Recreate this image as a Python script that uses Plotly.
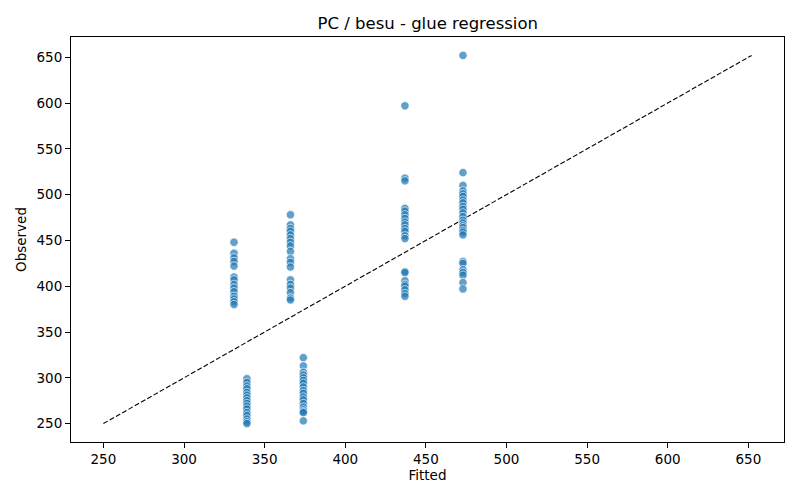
import plotly.graph_objects as go

# valores ajustados (fitted) por grupo y sus observaciones
fitted_a = 331
obs_a = [448, 436, 431, 427, 422, 410, 407, 402, 398, 394, 389, 386, 383, 380]
fitted_b = 339
obs_b = [299, 295, 291, 288, 284, 281, 278, 275, 272, 269, 266, 262, 259, 255, 252, 250]
fitted_c = 366
obs_c = [478, 467, 463, 460, 456, 452, 448, 444, 438, 430, 426, 421, 407, 402, 398, 393, 387, 385]
fitted_d = 374
obs_d = [322, 313, 306, 303, 300, 297, 294, 290, 286, 283, 279, 276, 272, 268, 265, 263, 262, 253]
fitted_e = 437
obs_e = [597, 518, 515, 485, 482, 478, 474, 470, 467, 463, 460, 455, 452, 416, 415, 406, 402, 400, 396, 392, 389]
fitted_f = 473
obs_f = [652, 524, 510, 504, 501, 498, 494, 491, 487, 484, 480, 476, 472, 469, 466, 464, 461, 459, 456,
         427, 425, 418, 415, 412, 404, 397]

grupos = [(fitted_a, obs_a), (fitted_b, obs_b), (fitted_c, obs_c),
          (fitted_d, obs_d), (fitted_e, obs_e), (fitted_f, obs_f)]

x = []
y = []
for f, obs in grupos:
    x += [f] * len(obs)
    y += obs

lo = min(min(x), min(y))
hi = max(max(x), max(y))
pad = (hi - lo) * 0.05

fig = go.Figure()
fig.add_trace(go.Scatter(
    x=[lo, hi], y=[lo, hi], mode="lines",
    line=dict(color="black", width=1.1, dash="5px,2.2px"),
    showlegend=False, hoverinfo="skip"
))
fig.add_trace(go.Scatter(
    x=x, y=y, mode="markers",
    marker=dict(color="rgba(31,119,180,0.7)", size=8.3,
                line=dict(color="rgba(255,255,255,0.8)", width=0.8)),
    showlegend=False
))

ejes = dict(
    showgrid=False, zeroline=False, showline=True, mirror=True,
    linecolor="black", linewidth=1, ticks="outside", ticklen=5,
    tickcolor="black", tickfont=dict(size=13.5, color="black"),
    range=[lo - pad, hi + pad], tickmode="array", automargin=False,
    tickvals=[250, 300, 350, 400, 450, 500, 550, 600, 650]
)

# el body de la pagina tiene 8px de margen, por eso la figura es algo mas chica
fig.update_layout(
    width=792, height=492,
    paper_bgcolor="white", plot_bgcolor="white",
    font=dict(family="DejaVu Sans", color="black"),
    margin=dict(l=63, r=16, t=29, b=58),
    title=dict(text="PC / besu - glue regression", x=0.530, xanchor="center",
               y=0.969, yanchor="middle", font=dict(size=16.5, color="black")),
    xaxis=dict(title=dict(text="Fitted", font=dict(size=13.5), standoff=3), **ejes),
    yaxis=dict(title=dict(text="Observed", font=dict(size=13.5), standoff=6), **ejes),
)

fig.write_html("out.html")
